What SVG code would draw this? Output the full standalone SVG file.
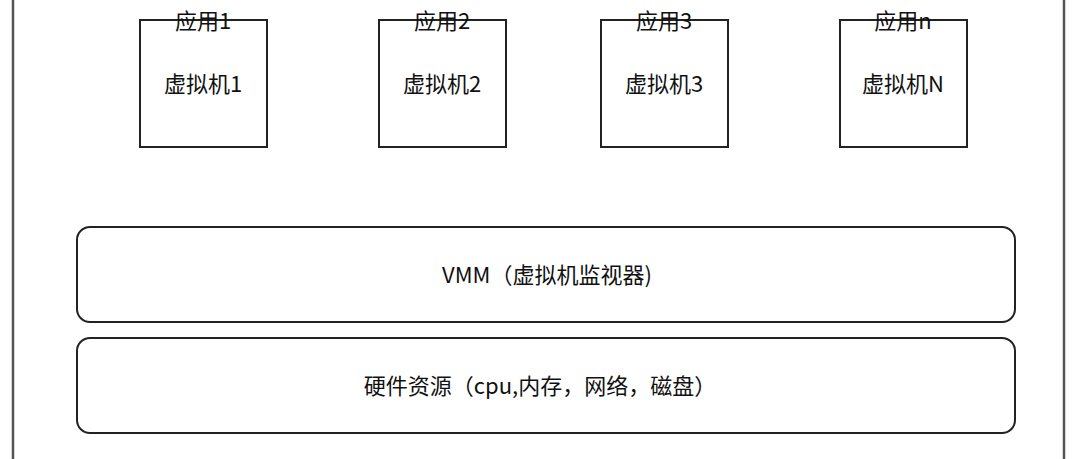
<svg xmlns="http://www.w3.org/2000/svg" width="1080" height="459" viewBox="0 0 1080 459">
<style>
.b{fill:#fff;stroke:#222;stroke-width:2}
.t{font-family:"Noto Sans CJK SC","Noto Sans",sans-serif;font-size:22px;fill:#111;text-anchor:middle}
.f{stroke:#555;stroke-width:2.5}
</style>
<rect width="1080" height="459" fill="#fff"/>
<g id="frame"><line class="f" x1="13" y1="0" x2="13" y2="459"/><line class="f" x1="1064" y1="0" x2="1064" y2="459"/></g>
<g id="vm1"><rect class="b" x="140" y="20" width="127" height="127"/><text class="t" x="203" y="29">应用1</text><text class="t" x="203" y="92">虚拟机1</text></g>
<g id="vm2"><rect class="b" x="379" y="20" width="127" height="127"/><text class="t" x="442" y="29">应用2</text><text class="t" x="442" y="92">虚拟机2</text></g>
<g id="vm3"><rect class="b" x="601" y="20" width="127" height="127"/><text class="t" x="664" y="29">应用3</text><text class="t" x="664" y="92">虚拟机3</text></g>
<g id="vmN"><rect class="b" x="840" y="20" width="127" height="127"/><text class="t" x="903" y="29">应用n</text><text class="t" x="903" y="92">虚拟机N</text></g>
<g id="vmm"><rect class="b" x="77" y="227" width="938" height="95" rx="13"/><text class="t" x="547" y="283">VMM（虚拟机监视器)</text></g>
<g id="hw"><rect class="b" x="77" y="338" width="938" height="95" rx="13"/><text class="t" x="540" y="394">硬件资源（cpu,内存，网络，磁盘）</text></g>
<g id="connectors"/>
</svg>
